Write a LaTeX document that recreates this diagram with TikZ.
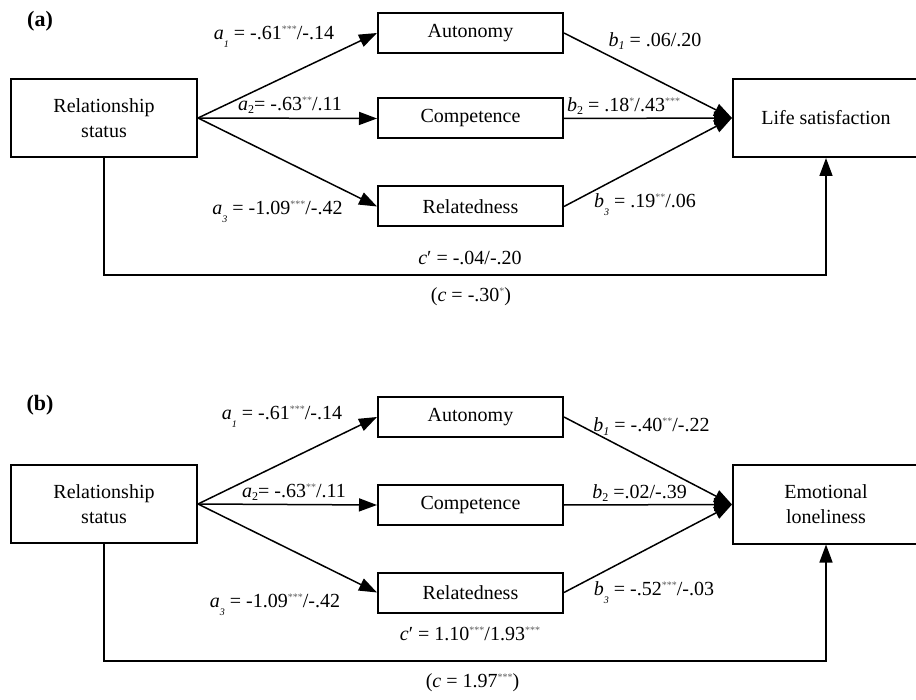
\documentclass[tikz,border=0pt]{standalone}
\usepackage{fontspec}
\setmainfont{Liberation Serif}
\usetikzlibrary{arrows.meta}

% small helpers for path coefficients
\newcommand{\subn}[1]{\raisebox{-3pt}{\fontsize{12}{12}\selectfont #1}}
\newcommand{\subi}[1]{\raisebox{-3pt}{\fontsize{12}{12}\selectfont\itshape #1}}
\newcommand{\sublow}[1]{\raisebox{-8pt}{\fontsize{10}{10}\selectfont\itshape #1}}
\newcommand{\stars}[1]{\raisebox{7pt}{\fontsize{10}{10}\selectfont\color{black!65}#1}}
\newcommand{\cpr}{\textit{c}\char"2032}

\begin{document}
\begin{tikzpicture}[x=1pt,y=-1pt,
  box/.style={draw, line width=2pt, minimum width=186pt, inner sep=0pt,
              align=center, font=\fontsize{20}{25}\selectfont},
  medbox/.style={box, minimum width=185pt, minimum height=40pt},
  bigbox/.style={box, minimum height=78pt},
  conn/.style={line width=1.5pt, -{Triangle[length=18pt,width=13pt]}},
  lbl/.style={anchor=base, inner sep=0pt, font=\fontsize{20}{24}\selectfont},
  panel/.style={inner sep=0pt, font=\fontsize{22}{24}\selectfont\bfseries},
]
\useasboundingbox (0,0) rectangle (916,700);
\clip (0,0) rectangle (916,700);

% ---------- panel (a) ----------
\node[panel] (pa) at (40,21) {(a)};
\node[bigbox] (rsA) at (104,118) {Relationship\\status};
\node[medbox] (autA) at (470.5,33) {Autonomy};
\node[medbox] (comA) at (470.5,118.5) {Competence};
\node[medbox] (relA) at (470.5,206.5) {Relatedness};
\node[bigbox] (outA) at (826,118) {Life satisfaction};

\draw[conn] (rsA.east) -- (autA.west);
\draw[conn] (rsA.east) -- (comA.west);
\draw[conn] (rsA.east) -- (relA.west);
\draw[conn] (autA.east) -- (outA.west);
\draw[conn] (comA.east) -- (outA.west);
\draw[conn] (relA.east) -- (outA.west);
\draw[conn] (rsA.south) -- ++(0,117) -| (outA.south);

\node[lbl] (la1) at (274,40) {\textit{a}\sublow{1} = -.61\stars{***}/-.14};
\node[lbl] (la2) at (290,111) {\textit{a}\subn{2}= -.63\stars{**}/.11};
\node[lbl] (la3) at (277.5,215) {\textit{a}\sublow{3} = -1.09\stars{***}/-.42};
\node[lbl] (lb1) at (655,47) {\textit{b}\subi{1} = .06/.20};
\node[lbl, anchor=base west] (lb2) at (567,112) {\textit{b}\subn{2} = .18\stars{*}/.43\stars{***}};
\node[lbl] (lb3) at (645,208) {\textit{b}\sublow{3} = .19\stars{**}/.06};
\node[lbl] (lcpA) at (470,265) {\cpr{} = -.04/-.20};
\node[lbl] (lcA) at (471,302) {(\textit{c} = -.30\stars{*})};

% ---------- panel (b) ----------
\node[panel] (pb) at (40,405) {\textbf{(b})};
\node[bigbox] (rsB) at (104,504) {Relationship\\status};
\node[medbox] (autB) at (470.5,417) {Autonomy};
\node[medbox] (comB) at (470.5,505) {Competence};
\node[medbox] (relB) at (470.5,592.5) {Relatedness};
\node[bigbox] (outB) at (826,504.5) {Emotional\\loneliness};

\draw[conn] (rsB.east) -- (autB.west);
\draw[conn] (rsB.east) -- (comB.west);
\draw[conn] (rsB.east) -- (relB.west);
\draw[conn] (autB.east) -- (outB.west);
\draw[conn] (comB.east) -- (outB.west);
\draw[conn] (relB.east) -- (outB.west);
\draw[conn] (rsB.south) -- ++(0,117) -| (outB.south);

\node[lbl] (ma1) at (282,420) {\textit{a}\sublow{1} = -.61\stars{***}/-.14};
\node[lbl] (ma2) at (294,497) {\textit{a}\subn{2}= -.63\stars{**}/.11};
\node[lbl] (ma3) at (275,607) {\textit{a}\sublow{3} = -1.09\stars{***}/-.42};
\node[lbl] (mb1) at (651.5,432) {\textit{b}\subi{1} = -.40\stars{**}/-.22};
\node[lbl] (mb2) at (639.5,498) {\textit{b}\subn{2} =.02/-.39};
\node[lbl] (mb3) at (654,595) {\textit{b}\sublow{3} = -.52\stars{***}/-.03};
\node[lbl] (lcpB) at (470,640) {\cpr{} = 1.10\stars{***}/1.93\stars{***}};
\node[lbl] (lcB) at (472.5,687) {(\textit{c} = 1.97\stars{***})};
\end{tikzpicture}
\end{document}
